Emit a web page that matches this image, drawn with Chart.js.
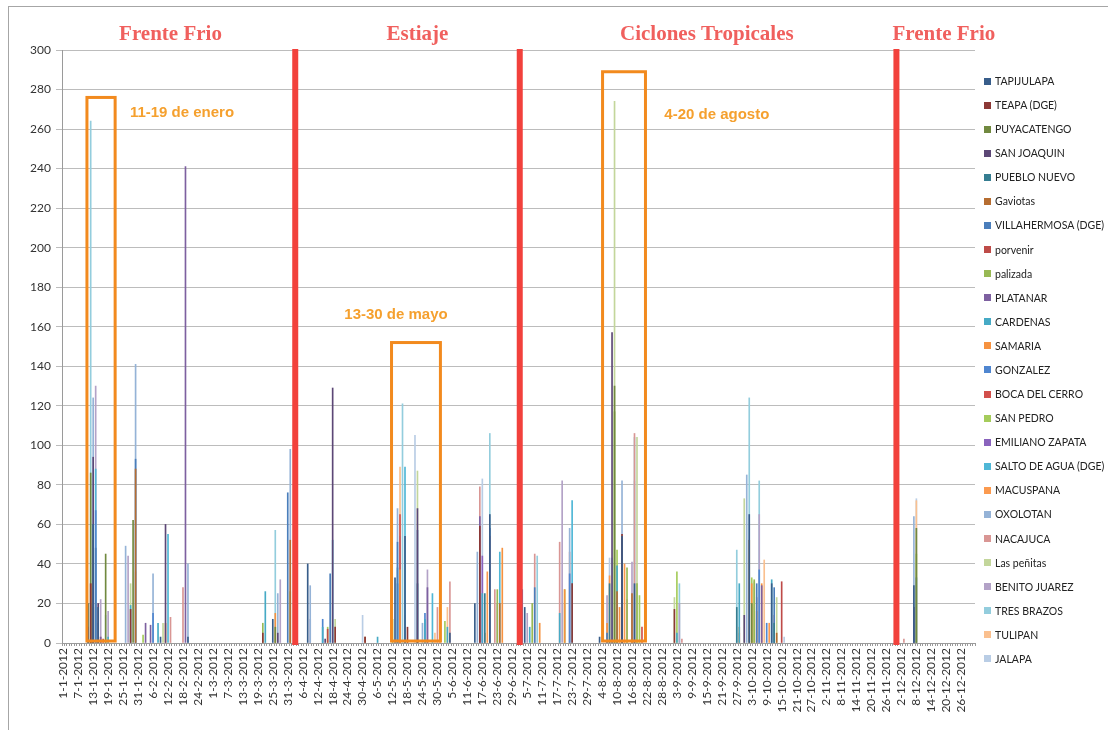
<!DOCTYPE html>
<html>
<head>
<meta charset="utf-8">
<script src="https://cdn.jsdelivr.net/npm/chart.js@4.4.1/dist/chart.umd.min.js"></script>
<style>
html, body { margin: 0; padding: 0; background: #fff; }
#wrap { position: relative; width: 1108px; height: 730px; overflow: hidden; }
#frame { position: absolute; left: 8px; top: 6px; right: 0; bottom: 0; border-left: 1px solid #a6a6a6; border-top: 1px solid #a6a6a6; }
canvas { position: absolute; left: 0; top: 0; }
#legend { position: absolute; left: 984px; top: 0; font: 10.5px Lato, sans-serif; color: #222; }
.item { position: absolute; left: 0; height: 14px; white-space: nowrap; display: flex; align-items: center; }
.sw { width: 7px; height: 7px; margin-right: 4px; flex: none; }
</style>
</head>
<body>
<div id="wrap">
  <div id="frame"></div>
  <canvas id="chart" width="1108" height="730"></canvas>
  <div id="legend"></div>
</div>
<script>
// ====== DATA (lluvia diaria 2012, mm) ======
const stations = ["TAPIJULAPA", "TEAPA (DGE)", "PUYACATENGO", "SAN JOAQUIN", "PUEBLO NUEVO", "Gaviotas",
  "VILLAHERMOSA (DGE)", "porvenir", "palizada", "PLATANAR", "CARDENAS", "SAMARIA", "GONZALEZ",
  "BOCA DEL CERRO", "SAN PEDRO", "EMILIANO ZAPATA", "SALTO DE AGUA (DGE)", "MACUSPANA", "OXOLOTAN",
  "NACAJUCA", "Las peñitas", "BENITO JUAREZ", "TRES BRAZOS", "TULIPAN", "JALAPA"];

const colors = ["#385d8a", "#8c3836", "#71893f", "#5c4776", "#357d91", "#b66d31",
  "#4a7ebb", "#be4b48", "#98b954", "#7d60a0", "#46aac5", "#f69240", "#4f86d0",
  "#d24f4b", "#a5cc5b", "#8a63bd", "#4fb7d6", "#fb9a4f", "#95b3d7",
  "#d99694", "#c3d69b", "#b3a2c7", "#93cddd", "#fac08f", "#b9cde5"];

const tapijulapa = [["11-1", 8], ["13-1", 60], ["15-1", 18], ["9-2", 3], ["20-2", 3], ["25-3", 12], ["8-4", 40],
  ["13-5", 33], ["17-5", 54], ["4-6", 5], ["14-6", 20], ["20-6", 65], ["4-7", 18], ["3-8", 3], ["12-8", 54],
  ["17-8", 30], ["2-10", 65], ["11-10", 30], ["7-12", 29]];
const teapa = [["12-1", 30], ["28-1", 17], ["21-3", 5], ["19-4", 8], ["1-5", 3], ["18-5", 8], ["16-6", 59],
  ["23-7", 30], ["12-8", 55], ["2-9", 17]];
const puyacatengo = [["12-1", 86], ["18-1", 45], ["29-1", 62], ["26-3", 8], ["9-8", 130], ["3-10", 20], ["8-12", 58]];
const sanJoaquin = [["13-1", 94], ["15-1", 20], ["11-2", 60], ["27-3", 5], ["15-4", 2], ["18-4", 129], ["22-5", 68],
  ["8-8", 157], ["30-9", 14], ["7-12", 18]];
const puebloNuevo = [["11-1", 20], ["22-5", 30], ["18-6", 25], ["7-8", 30], ["27-9", 18], ["12-10", 10]];
const gaviotas = [["13-1", 52], ["30-1", 88], ["1-4", 52], ["1-5", 3], ["24-6", 20], ["10-8", 26], ["16-8", 25],
  ["2-10", 52], ["13-10", 5]];
const villahermosa = [["14-1", 48], ["30-1", 93], ["31-3", 76], ["17-4", 35], ["14-5", 51], ["20-6", 58], ["8-7", 28],
  ["6-8", 5], ["5-10", 30], ["12-10", 28], ["8-12", 33]];
const porvenir = [["17-1", 2], ["16-4", 7], ["15-10", 31]];
const palizada = [["21-3", 10], ["1-4", 26], ["12-5", 12], ["23-6", 27], ["7-7", 20], ["9-8", 117], ["14-8", 38],
  ["18-8", 30], ["4-10", 32]];
const platanar = [["16-1", 3], ["3-2", 10], ["5-2", 9], ["19-2", 241], ["26-5", 28], ["16-6", 64], ["7-10", 29]];
const cardenas = [["12-1", 20], ["19-1", 3], ["28-1", 19], ["8-2", 10], ["22-3", 26], ["14-4", 8], ["18-4", 52],
  ["6-5", 3], ["14-5", 38], ["25-5", 12], ["3-6", 8], ["17-6", 25], ["6-7", 8], ["18-7", 15], ["10-8", 39],
  ["3-9", 5], ["28-9", 30], ["11-10", 32]];
const samaria = [["12-1", 30], ["11-2", 10], ["26-3", 15], ["15-5", 37], ["31-5", 3], ["18-6", 5], ["25-6", 48],
  ["10-7", 10], ["20-7", 27], ["6-8", 10], ["11-8", 18], ["28-9", 8], ["3-10", 30], ["7-10", 30]];
const gonzalez = [["14-1", 67], ["6-2", 15], ["14-4", 12], ["14-5", 30], ["22-5", 57], ["25-5", 15], ["3-7", 27],
  ["22-7", 35], ["12-8", 53], ["6-10", 37], ["9-10", 10]];
const bocaDelCerro = [["13-1", 18], ["15-5", 65], ["20-6", 54], ["20-8", 8]];
const sanPedro = [["2-2", 4], ["16-4", 8], ["2-6", 11], ["20-7", 27], ["10-8", 47], ["19-8", 24], ["3-9", 36],
  ["3-10", 33], ["8-12", 45]];
const emilianoZapata = [["17-6", 44]];
const saltoDeAgua = [["11-1", 12], ["14-1", 88], ["12-2", 55], ["17-5", 89], ["28-5", 25], ["24-6", 46], ["23-7", 72]];
const macuspana = [["14-1", 20], ["19-6", 36], ["7-8", 34], ["13-8", 40], ["5-10", 16], ["10-10", 10]];
const oxolotan = [["13-1", 124], ["26-1", 49], ["30-1", 141], ["6-2", 35], ["20-2", 40], ["27-3", 25], ["1-4", 98],
  ["9-4", 29], ["14-5", 68], ["24-5", 10], ["15-6", 46], ["22-7", 58], ["12-8", 82], ["1-10", 85], ["7-12", 64]];
const nacajuca = [["13-1", 22], ["16-1", 3], ["13-2", 13], ["18-2", 28], ["17-5", 14], ["30-5", 18], ["4-6", 31],
  ["16-6", 79], ["22-6", 27], ["8-7", 45], ["18-7", 51], ["22-7", 46], ["14-8", 22], ["17-8", 106], ["5-9", 2],
  ["28-9", 5], ["5-10", 23], ["12-10", 14], ["3-12", 2]];
const lasPenitas = [["28-1", 30], ["10-2", 10], ["19-4", 12], ["22-5", 87], ["9-8", 274], ["18-8", 104], ["2-9", 23],
  ["30-9", 73], ["4-10", 31], ["13-10", 23]];
const benitoJuarez = [["14-1", 130], ["16-1", 22], ["19-1", 16], ["27-1", 44], ["28-3", 32], ["9-4", 12], ["15-5", 54],
  ["26-5", 37], ["23-6", 20], ["5-7", 15], ["19-7", 82], ["6-8", 24], ["16-8", 41], ["4-9", 20], ["6-10", 65]];
const tresBrazos = [["12-1", 264], ["15-1", 10], ["26-3", 57], ["16-5", 121], ["20-6", 106], ["9-7", 44], ["8-8", 43],
  ["17-8", 104], ["4-9", 30], ["27-9", 47], ["2-10", 124], ["6-10", 82]];
const tulipan = [["14-1", 18], ["30-1", 36], ["15-5", 89], ["29-5", 5], ["3-6", 18], ["4-10", 28], ["8-10", 42], ["8-12", 72]];
const jalapa = [["14-1", 18], ["18-1", 14], ["30-4", 14], ["21-5", 105], ["17-6", 83], ["20-7", 20], ["7-8", 43],
  ["17-8", 82], ["4-10", 18], ["16-10", 3], ["8-12", 73]];

const series = [tapijulapa, teapa, puyacatengo, sanJoaquin, puebloNuevo, gaviotas, villahermosa, porvenir,
  palizada, platanar, cardenas, samaria, gonzalez, bocaDelCerro, sanPedro, emilianoZapata, saltoDeAgua,
  macuspana, oxolotan, nacajuca, lasPenitas, benitoJuarez, tresBrazos, tulipan, jalapa];

// periodos y anotaciones
const periods = ["Frente Frio", "Estiaje", "Ciclones Tropicales", "Frente Frio"];
const periodCenter = ["13-2", "22-5", "15-9", "19-12"];
const cortes = ["3-4", "2-7", "30-11"];
const boxText = ["11-19 de enero", "13-30 de mayo", "4-20 de agosto"];
const boxFrom = [9.5, 131.6, 216.2];
const boxTo = [20.8, 151.2, 233.4];
const boxTop = [276, 152, 289];
const textAt = [47.6, 133.4, 262];
const textVal = [268, 166, 267];

// ====== CATEGORIES ======
const monthDays = [31, 29, 31, 30, 31, 30, 31, 31, 30, 31, 30, 31];
const days = [];
monthDays.forEach((n, m) => { for (let d = 1; d <= n; d++) days.push(d + "-" + (m + 1)); });
const labels = days.map(d => d + "-2012");

function toDaily(points) {
  const arr = new Array(days.length).fill(null);
  points.forEach(([d, v]) => { arr[days.indexOf(d)] = v; });
  return arr;
}

// ====== LEGEND ======
const legendEl = document.getElementById("legend");
stations.forEach((name, i) => {
  const div = document.createElement("div");
  div.className = "item";
  div.style.top = (81 + i * 24.08 - 7) + "px";
  div.innerHTML = `<span class="sw" style="background:${colors[i]}"></span>${name}`;
  legendEl.appendChild(div);
});

// ====== OVERLAY ======
const overlay = {
  id: "overlay",
  afterDatasetsDraw(chart) {
    const { ctx, chartArea, scales: { x, y } } = chart;
    ctx.save();
    ctx.strokeStyle = "#f28a1e";
    ctx.lineWidth = 3;
    boxFrom.forEach((f, i) => {
      const l = x.getPixelForValue(f), r = x.getPixelForValue(boxTo[i]);
      const t = y.getPixelForValue(boxTop[i]), b = y.getPixelForValue(1);
      ctx.strokeRect(l, t, r - l, b - t);
    });
    ctx.fillStyle = "#f2413c";
    cortes.forEach(d => {
      const px = x.getPixelForValue(days.indexOf(d));
      ctx.fillRect(px - 3, chartArea.top - 1, 6, chartArea.bottom - chartArea.top + 3);
    });
    ctx.fillStyle = "#f5a02e";
    ctx.font = "bold 15px 'Liberation Sans', Arial, sans-serif";
    ctx.textAlign = "center";
    ctx.textBaseline = "middle";
    boxText.forEach((t, i) => ctx.fillText(t, x.getPixelForValue(textAt[i]), y.getPixelForValue(textVal[i])));
    ctx.fillStyle = "#f0605e";
    ctx.font = "bold 21px 'Liberation Serif', 'Times New Roman', serif";
    periods.forEach((p, i) => ctx.fillText(p, x.getPixelForValue(days.indexOf(periodCenter[i])), 35));
    ctx.restore();
  }
};

// ====== CHART ======
new Chart(document.getElementById("chart"), {
  type: "bar",
  data: {
    labels,
    datasets: series.map((s, i) => ({
      label: stations[i],
      data: toDaily(s),
      backgroundColor: colors[i],
      grouped: false,
      barThickness: 1
    }))
  },
  options: {
    responsive: false,
    animation: false,
    events: [],
    layout: { padding: { top: 50, right: 133, left: 0, bottom: 0 } },
    plugins: { legend: { display: false }, tooltip: { enabled: false } },
    scales: {
      x: {
        afterFit: s => { s.height = 87; },
        grid: { drawOnChartArea: false, color: "#9a9a9a", tickLength: 3 },
        border: { color: "#9a9a9a" },
        ticks: {
          autoSkip: false, minRotation: 90, maxRotation: 90, padding: 2,
          color: "#333", font: { family: "Lato", size: 12 },
          callback: (v, i) => (i % 6 === 0 ? labels[i] : "")
        }
      },
      y: {
        min: 0, max: 300,
        afterFit: s => { s.width = 62; },
        grid: { color: "#bcbcbc", tickLength: 6 },
        border: { color: "#9a9a9a" },
        ticks: { stepSize: 20, padding: 5, color: "#333", font: { family: "Lato", size: 12 } }
      }
    }
  },
  plugins: [overlay]
});
</script>
</body>
</html>
